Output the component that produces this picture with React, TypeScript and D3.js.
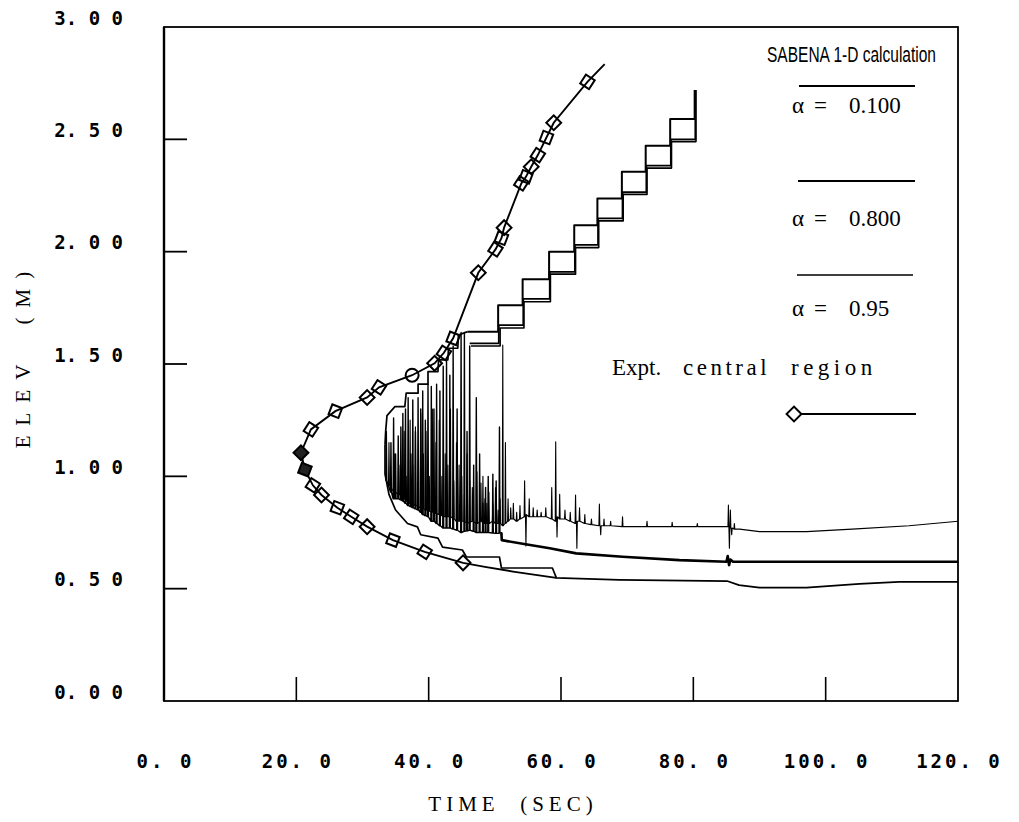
import React from "react";
import * as d3 from "d3";

type P = [number, number];
type Spike = [number, number, number]; // [time, peak elevation, floor elevation]

// ---------- axes ----------
const X_TICKS = [0, 20, 40, 60, 80, 100, 120];
const X_TICK_LABELS = ["0. 0", "20. 0", "40. 0", "60. 0", "80. 0", "100. 0", "120. 0"];
const Y_TICKS = [0, 0.5, 1, 1.5, 2, 2.5, 3];
const Y_TICK_LABELS = ["0. 0 0", "0. 5 0", "1. 0 0", "1. 5 0", "2. 0 0", "2. 5 0", "3. 0 0"];
const X_TITLE = "TIME  (SEC)";
const Y_TITLE = "ELEV  (M)";

// ---------- legend ----------
const LEGEND_TITLE = "SABENA 1-D calculation";
const ALPHA_VALUES = ["0.100", "0.800", "0.95"];
const EXPT_WORDS = ["Expt.", "central", "region"];

// ---------- experiment (central region), markers ----------
const exptPoints: P[] = [
  [45.2, 0.615], [39.4, 0.664], [34.6, 0.716], [30.7, 0.776], [28.3, 0.82], [26.2, 0.86],
  [23.8, 0.917], [22.5, 0.96], [21.3, 1.03], [20.7, 1.105], [22.2, 1.209], [25.9, 1.29],
  [30.7, 1.351], [32.5, 1.396], [37.5, 1.45], [40.9, 1.503], [42.3, 1.55], [43.7, 1.614],
  [47.5, 1.906], [50.1, 2.01], [51.0, 2.06], [51.4, 2.107], [54.0, 2.304], [54.7, 2.333],
  [55.5, 2.378], [56.5, 2.43], [57.8, 2.508], [58.9, 2.574], [64.0, 2.756],
];
const exptLineStart: P[] = [[59.3, 0.548], [53.0, 0.575], [48.5, 0.597]];
const exptLineEnd: P[] = [[66.6, 2.835]];

// ---------- alpha = 0.100 ----------
const a100Lower: P[] = [
  [33.4, 1.14], [33.4, 1.01], [34.0, 0.92], [35.0, 0.85], [35.9, 0.82], [36.8, 0.79],
  [38.3, 0.775], [38.8, 0.74], [41.4, 0.725], [42.1, 0.685], [45.1, 0.672], [45.7, 0.641],
  [50.7, 0.641], [51.0, 0.592], [58.7, 0.592], [59.3, 0.548], [68.8, 0.539], [85.1, 0.534],
  [86.9, 0.516], [90.0, 0.505], [97.1, 0.505], [105.1, 0.521], [111.1, 0.53], [120, 0.53],
];
const a100Upper: P[] = [
  [33.4, 1.14], [33.5, 1.2], [33.7, 1.27], [34.9, 1.31], [36.4, 1.31], [36.6, 1.37],
  [38.4, 1.37], [38.4, 1.41], [39.9, 1.41], [39.9, 1.466], [41.4, 1.466], [41.5, 1.518],
  [42.9, 1.518], [43.0, 1.57], [44.4, 1.57], [44.5, 1.629], [45.9, 1.644],
];
const a100Stairs: P[] = [
  [45.9, 1.644], [50.5, 1.762], [54.2, 1.877], [58.2, 2.0], [62.0, 2.118],
  [65.5, 2.237], [69.2, 2.356], [72.8, 2.471], [76.5, 2.59], [80.2, 2.72],
];

// ---------- alpha = 0.800 ----------
const a800Spikes: Spike[] = [
  [33.6, 1.2, 0.98], [34.3, 1.15, 0.93], [34.7, 1.26, 0.9], [35.0, 1.1, 0.9], [35.4, 1.18, 0.9],
  [35.8, 1.22, 0.895], [36.1, 1.28, 0.89], [36.5, 1.3, 0.88], [36.9, 1.35, 0.87], [37.3, 1.1, 0.865],
  [37.6, 1.34, 0.86], [38.0, 1.2, 0.855], [38.4, 1.35, 0.85], [38.8, 1.3, 0.84], [39.1, 1.38, 0.83],
  [39.5, 1.25, 0.825], [39.9, 1.41, 0.82], [40.4, 1.4, 0.8], [40.8, 1.3, 0.8], [41.2, 1.41, 0.79],
  [41.7, 1.38, 0.78], [42.2, 1.49, 0.77], [42.7, 1.52, 0.77], [43.2, 1.45, 0.77], [43.7, 1.58, 0.765],
  [44.3, 1.3, 0.76], [44.9, 1.64, 0.75], [45.4, 1.64, 0.755], [45.8, 1.2, 0.757], [46.2, 1.58, 0.76],
  [46.8, 1.05, 0.755], [47.2, 1.35, 0.75], [47.7, 1.1, 0.75], [48.2, 0.88, 0.75], [48.6, 0.95, 0.75],
  [49.0, 1.0, 0.75], [49.7, 1.01, 0.748], [50.2, 0.98, 0.746], [50.7, 1.22, 0.746],
];
const a800Lower: P[] = [
  [50.8, 0.746], [51.0, 0.746], [51.05, 0.716], [54.2, 0.7], [58.3, 0.68], [62.3, 0.657],
  [69.3, 0.642], [77.9, 0.627], [85.0, 0.62], [85.2, 0.645], [85.4, 0.605], [85.6, 0.63],
  [86.0, 0.62], [120, 0.62],
];
const a800Stairs: P[] = [
  [46.2, 1.592], [50.6, 1.673], [54.3, 1.79], [58.3, 1.91], [62.1, 2.03],
  [65.6, 2.148], [69.3, 2.265], [72.9, 2.383], [76.6, 2.5], [80.3, 2.72],
];

// ---------- alpha = 0.95 ----------
const a95Spikes: Spike[] = [
  [34.0, 1.15, 0.96], [34.8, 1.1, 0.93], [35.5, 1.05, 0.92], [36.3, 1.2, 0.9], [36.7, 1.0, 0.89],
  [37.2, 1.25, 0.88], [37.6, 1.05, 0.875], [38.0, 1.22, 0.87], [38.8, 1.28, 0.86], [39.2, 1.1, 0.855],
  [39.6, 1.2, 0.85], [40.1, 1.0, 0.845], [40.6, 1.3, 0.84], [41.1, 1.15, 0.835], [41.6, 1.25, 0.83],
  [42.0, 1.0, 0.825], [42.5, 1.1, 0.82], [42.9, 1.05, 0.82], [43.3, 1.3, 0.82], [43.8, 0.98, 0.81],
  [44.2, 1.15, 0.8], [44.6, 1.05, 0.8], [45.0, 1.0, 0.8], [45.4, 0.92, 0.8], [45.8, 1.1, 0.79],
  [46.2, 0.98, 0.795], [46.6, 0.95, 0.8], [47.3, 1.02, 0.79], [47.9, 0.97, 0.8], [48.2, 1.0, 0.795],
  [48.5, 0.9, 0.79], [48.8, 0.88, 0.79], [49.1, 0.93, 0.79], [49.7, 0.88, 0.8], [50.1, 0.95, 0.79],
  [50.5, 0.85, 0.79], [50.8, 0.9, 0.79], [51.2, 1.584, 0.78], [51.6, 1.15, 0.79], [52.0, 0.9, 0.8],
  [52.4, 0.86, 0.81], [52.8, 0.88, 0.81], [53.3, 0.84, 0.8], [53.8, 0.87, 0.81], [54.5, 0.98, 0.82],
  [54.7, 0.69, 0.83], [55.2, 0.9, 0.82], [55.8, 0.86, 0.82], [56.4, 0.85, 0.82], [57.0, 0.84, 0.82],
  [57.7, 0.86, 0.82], [58.6, 0.95, 0.81], [59.2, 1.154, 0.8], [59.4, 0.73, 0.82], [59.8, 0.92, 0.81],
  [60.6, 0.85, 0.81], [61.4, 0.84, 0.8], [62.2, 0.917, 0.79], [62.4, 0.68, 0.8], [62.8, 0.86, 0.8],
  [63.6, 0.83, 0.79], [64.6, 0.81, 0.785], [65.8, 0.877, 0.78], [66.0, 0.74, 0.78], [66.5, 0.81, 0.78],
  [67.5, 0.8, 0.78], [69.3, 0.82, 0.776], [73.0, 0.8, 0.776], [76.8, 0.795, 0.776], [80.6, 0.79, 0.776],
  [85.3, 0.872, 0.776], [85.45, 0.68, 0.77], [85.6, 0.85, 0.77], [85.8, 0.74, 0.77], [86.2, 0.79, 0.765],
];
const a95Tail: P[] = [[87.0, 0.765], [90.0, 0.754], [97.1, 0.754], [104.0, 0.765], [112.6, 0.78], [120, 0.8]];
const a95Stairs: P[] = [
  [46.4, 1.58], [50.8, 1.66], [54.4, 1.777], [58.4, 1.9], [62.2, 2.018],
  [65.7, 2.137], [69.4, 2.255], [73.0, 2.372], [76.7, 2.49], [80.4, 2.72],
];

const FILLED_MARKERS = new Set([8, 9]);
const CIRCLE_MARKERS = new Set([14]);

export default function App() {
  const W = 1019;
  const H = 822;
  const x = d3.scaleLinear().domain([0, 120]).range([164, 958]);
  const y = d3.scaleLinear().domain([0, 3]).range([701, 27]);

  const line = d3.line<P>().x((d) => x(d[0])).y((d) => y(d[1]));
  const stair = d3.line<P>().x((d) => x(d[0])).y((d) => y(d[1])).curve(d3.curveStepAfter);

  const spikePts = (spikes: Spike[], tail: P[]): P[] => {
    const pts: P[] = [];
    spikes.forEach(([t, peak, floor]) => {
      pts.push([t - 0.07, floor], [t, peak], [t + 0.07, floor]);
    });
    return pts.concat(tail);
  };

  const exptLine: P[] = [...exptLineStart, ...exptPoints, ...exptLineEnd];
  const diamond = d3.symbol().type(d3.symbolSquare).size(110)() as string;

  const mono = "'DejaVu Sans Mono', monospace";
  const serif = "'Liberation Serif', 'Times New Roman', serif";
  const sans = "'Liberation Sans', Arial, sans-serif";

  const alphaRows = [
    { y: 113, lineY: 86, x1: 799, x2: 915, sw: 2 },
    { y: 226, lineY: 181, x1: 798, x2: 915, sw: 2 },
    { y: 316, lineY: 275, x1: 797, x2: 913, sw: 1.6 },
  ];

  return (
    <svg
      width={W}
      height={H}
      viewBox={`0 0 ${W} ${H}`}
      style={{ position: "absolute", left: 0, top: 0, background: "#fff" }}
    >
      <rect x={0} y={0} width={W} height={H} fill="#fff" />

      {/* frame */}
      <rect x={x(0)} y={y(3)} width={x(120) - x(0)} height={y(0) - y(3)} fill="none" stroke="#000" strokeWidth={1.8} />
      <line x1={x(0)} x2={x(0)} y1={y(3)} y2={y(0)} stroke="#000" strokeWidth={2.4} />

      {/* ticks */}
      {Y_TICKS.filter((v) => v > 0 && v < 3).map((v) => (
        <line key={"yt" + v} x1={x(0)} x2={x(0) + 23} y1={y(v)} y2={y(v)} stroke="#000" strokeWidth={1.8} />
      ))}
      {X_TICKS.filter((v) => v > 0 && v < 120).map((v) => (
        <line key={"xt" + v} x1={x(v)} x2={x(v)} y1={y(0)} y2={y(0) - 24} stroke="#000" strokeWidth={1.6} />
      ))}

      {/* tick labels */}
      {Y_TICKS.map((v, i) => (
        <text key={"yl" + v} x={123} y={y(v) - 2.5} textAnchor="end" fontFamily={mono} fontWeight="bold" fontSize={19} fill="#000" style={{ whiteSpace: "pre" }}>
          {Y_TICK_LABELS[i]}
        </text>
      ))}
      {X_TICKS.map((v, i) => (
        <text key={"xl" + v} x={x(v) + 1.5} y={768} textAnchor="middle" fontFamily={mono} fontWeight="bold" fontSize={19} letterSpacing={3} fill="#000" style={{ whiteSpace: "pre" }}>
          {X_TICK_LABELS[i]}
        </text>
      ))}

      {/* axis titles */}
      <text x={513} y={811} textAnchor="middle" fontFamily={serif} fontSize={21} letterSpacing={5} fill="#000" style={{ whiteSpace: "pre" }}>
        {X_TITLE}
      </text>
      <text transform={`translate(30,355) rotate(-90)`} textAnchor="middle" fontFamily={serif} fontSize={21} letterSpacing={10} fill="#000" style={{ whiteSpace: "pre" }}>
        {Y_TITLE}
      </text>

      {/* calculation curves */}
      <g fill="none" stroke="#000" strokeLinejoin="round">
        <path d={line(a100Lower) || ""} strokeWidth={1.7} />
        <path d={line(a100Upper) || ""} strokeWidth={1.7} />
        <path d={stair(a100Stairs) || ""} strokeWidth={2} />

        <path d={line(spikePts(a800Spikes, [])) || ""} strokeWidth={1.4} />
        <path d={line(a800Lower) || ""} strokeWidth={2.6} />
        <path d={stair(a800Stairs) || ""} strokeWidth={1.8} />

        <path d={line(spikePts(a95Spikes, a95Tail)) || ""} strokeWidth={1.1} />
        <path d={stair(a95Stairs) || ""} strokeWidth={1.6} />
      </g>

      {/* experiment */}
      <path d={line(exptLine) || ""} fill="none" stroke="#000" strokeWidth={1.9} />
      {exptPoints.map((d, i) =>
        CIRCLE_MARKERS.has(i) ? (
          <circle key={"m" + i} cx={x(d[0])} cy={y(d[1])} r={6.5} fill="none" stroke="#000" strokeWidth={2} />
        ) : (
          <path
            key={"m" + i}
            d={diamond}
            transform={`translate(${x(d[0])},${y(d[1])}) rotate(${45 - (i % 3) * 12})`}
            fill={FILLED_MARKERS.has(i) ? "#222" : "none"}
            stroke="#000"
            strokeWidth={2}
          />
        )
      )}

      {/* legend */}
      <text x={767} y={62} fontFamily={sans} fontSize={22} textLength={169} lengthAdjust="spacingAndGlyphs" fill="#000">
        {LEGEND_TITLE}
      </text>
      {alphaRows.map((r, i) => (
        <g key={"lg" + i}>
          <line x1={r.x1} x2={r.x2} y1={r.lineY} y2={r.lineY} stroke="#000" strokeWidth={r.sw} />
          <text y={r.y} fontFamily={serif} fontSize={23} fill="#000">
            <tspan x={792}>α</tspan>
            <tspan x={814}>=</tspan>
            <tspan x={849}>{ALPHA_VALUES[i]}</tspan>
          </text>
        </g>
      ))}
      <text y={375} fontFamily={serif} fontSize={23} fill="#000">
        <tspan x={612}>{EXPT_WORDS[0]}</tspan>
        <tspan x={683} letterSpacing={3.5}>{EXPT_WORDS[1]}</tspan>
        <tspan x={791} letterSpacing={4.5}>{EXPT_WORDS[2]}</tspan>
      </text>
      <line x1={794} x2={916} y1={414} y2={414} stroke="#000" strokeWidth={1.8} />
      <path d={diamond} transform="translate(794,414) rotate(45)" fill="#fff" stroke="#000" strokeWidth={2} />
    </svg>
  );
}
